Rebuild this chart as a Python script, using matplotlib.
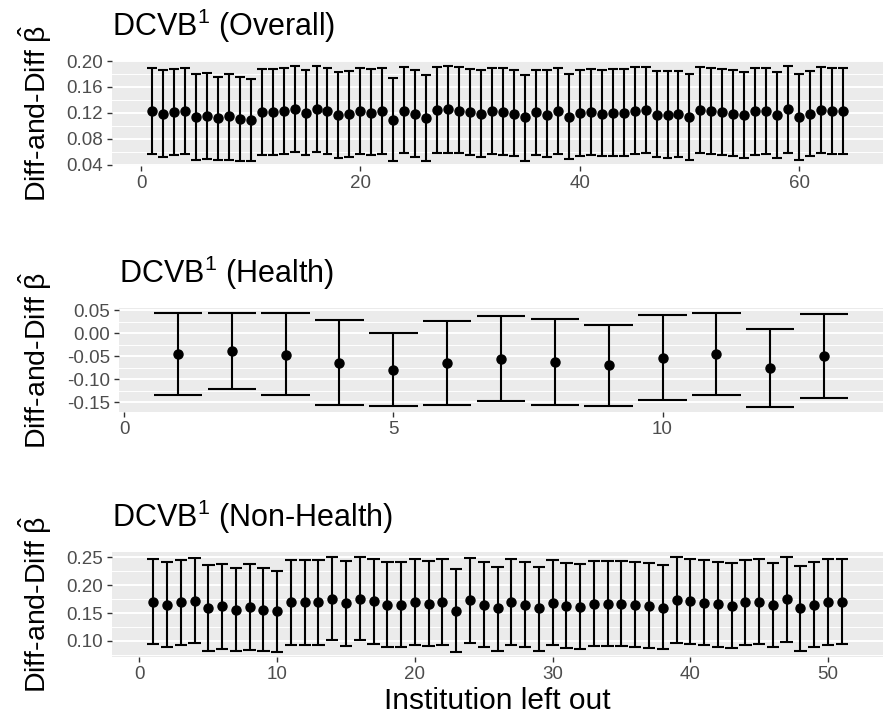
import numpy as np
import matplotlib
matplotlib.use("Agg")
import matplotlib.pyplot as plt


# -----------------------------
# Data
# -----------------------------

# DCVB (Overall): 64 institutions
overall_est = [0.1226, 0.1185, 0.1210, 0.1236, 0.1138, 0.1154, 0.1117, 0.1148, 0.1107, 0.1086,
               0.1210, 0.1210, 0.1221, 0.1262, 0.1200, 0.1267, 0.1221, 0.1169, 0.1179, 0.1221,
               0.1205, 0.1221, 0.1097, 0.1236, 0.1185, 0.1128, 0.1241, 0.1252, 0.1236, 0.1216,
               0.1179, 0.1224, 0.1216, 0.1190, 0.1133, 0.1210, 0.1174, 0.1236, 0.1143, 0.1195,
               0.1216, 0.1190, 0.1205, 0.1205, 0.1236, 0.1246, 0.1174, 0.1164, 0.1185, 0.1138,
               0.1246, 0.1226, 0.1210, 0.1190, 0.1174, 0.1221, 0.1226, 0.1169, 0.1262, 0.1138,
               0.1190, 0.1246, 0.1226, 0.1226]
overall_hi = [0.1886, 0.1855, 0.1876, 0.1897, 0.1799, 0.1814, 0.1757, 0.1804, 0.1747, 0.1716,
              0.1876, 0.1876, 0.1886, 0.1928, 0.1866, 0.1928, 0.1886, 0.1835, 0.1850, 0.1886,
              0.1876, 0.1892, 0.1742, 0.1907, 0.1855, 0.1783, 0.1912, 0.1923, 0.1912, 0.1881,
              0.1855, 0.1889, 0.1886, 0.1861, 0.1783, 0.1866, 0.1855, 0.1897, 0.1804, 0.1866,
              0.1881, 0.1855, 0.1876, 0.1876, 0.1902, 0.1912, 0.1845, 0.1845, 0.1850, 0.1804,
              0.1912, 0.1892, 0.1876, 0.1861, 0.1835, 0.1886, 0.1897, 0.1835, 0.1923, 0.1804,
              0.1850, 0.1912, 0.1897, 0.1897]
overall_lo = [0.0565, 0.0519, 0.0555, 0.0570, 0.0472, 0.0488, 0.0467, 0.0477, 0.0452, 0.0452,
              0.0555, 0.0555, 0.0560, 0.0601, 0.0544, 0.0596, 0.0560, 0.0508, 0.0519, 0.0560,
              0.0550, 0.0560, 0.0452, 0.0575, 0.0524, 0.0462, 0.0575, 0.0581, 0.0575, 0.0544,
              0.0519, 0.0562, 0.0555, 0.0529, 0.0462, 0.0550, 0.0519, 0.0560, 0.0483, 0.0534,
              0.0550, 0.0539, 0.0539, 0.0539, 0.0570, 0.0575, 0.0514, 0.0503, 0.0514, 0.0472,
              0.0575, 0.0560, 0.0550, 0.0529, 0.0508, 0.0555, 0.0565, 0.0503, 0.0581, 0.0467,
              0.0529, 0.0575, 0.0565, 0.0565]

# DCVB (Health): 13 institutions
health_est = [-0.0457, -0.0387, -0.0465, -0.0642, -0.0805, -0.0649, -0.0557,
              -0.0628, -0.0699, -0.0543, -0.0450, -0.0762, -0.0493]
health_hi = [0.0429, 0.0443, 0.0429, 0.0280, -0.0004, 0.0259, 0.0372,
             0.0301, 0.0181, 0.0387, 0.0443, 0.0082, 0.0422]
health_lo = [-0.1344, -0.1216, -0.1344, -0.1557, -0.1578, -0.1557, -0.1479,
             -0.1550, -0.1578, -0.1457, -0.1330, -0.1606, -0.1400]

# DCVB (Non-Health): 51 institutions
nonhealth_est = [0.1699, 0.1652, 0.1693, 0.1723, 0.1593, 0.1622, 0.1557, 0.1604, 0.1563, 0.1533,
                 0.1693, 0.1693, 0.1705, 0.1753, 0.1682, 0.1753, 0.1711, 0.1646, 0.1652, 0.1699,
                 0.1670, 0.1699, 0.1539, 0.1729, 0.1652, 0.1587, 0.1705, 0.1652, 0.1587, 0.1682,
                 0.1628, 0.1604, 0.1670, 0.1664, 0.1658, 0.1640, 0.1628, 0.1598, 0.1735, 0.1711,
                 0.1687, 0.1658, 0.1634, 0.1693, 0.1705, 0.1640, 0.1747, 0.1593, 0.1652, 0.1705,
                 0.1705]
nonhealth_hi = [0.2464, 0.2411, 0.2453, 0.2482, 0.2364, 0.2387, 0.2304, 0.2375, 0.2304, 0.2257,
                0.2453, 0.2453, 0.2458, 0.2500, 0.2441, 0.2500, 0.2470, 0.2411, 0.2417, 0.2464,
                0.2441, 0.2464, 0.2286, 0.2494, 0.2411, 0.2334, 0.2464, 0.2423, 0.2328, 0.2447,
                0.2399, 0.2375, 0.2441, 0.2435, 0.2429, 0.2411, 0.2393, 0.2358, 0.2500, 0.2470,
                0.2453, 0.2423, 0.2393, 0.2453, 0.2464, 0.2405, 0.2512, 0.2352, 0.2411, 0.2464,
                0.2464]
nonhealth_lo = [0.0940, 0.0893, 0.0928, 0.0958, 0.0827, 0.0863, 0.0815, 0.0839, 0.0815, 0.0804,
                0.0922, 0.0922, 0.0934, 0.1017, 0.0910, 0.1011, 0.0946, 0.0893, 0.0899, 0.0934,
                0.0910, 0.0934, 0.0798, 0.0964, 0.0893, 0.0815, 0.0934, 0.0899, 0.0815, 0.0922,
                0.0881, 0.0851, 0.0910, 0.0905, 0.0905, 0.0887, 0.0875, 0.0851, 0.0970, 0.0940,
                0.0922, 0.0899, 0.0881, 0.0928, 0.0940, 0.0887, 0.0982, 0.0821, 0.0893, 0.0934,
                0.0940]

titles = ["DCVB$^1$ (Overall)", "DCVB$^1$ (Health)", "DCVB$^1$ (Non-Health)"]
x_ticks = [[0, 20, 40, 60], [0, 5, 10], [0, 10, 20, 30, 40, 50]]
y_major = [[0.04, 0.08, 0.12, 0.16, 0.20],
           [-0.15, -0.10, -0.05, 0.00, 0.05],
           [0.10, 0.15, 0.20, 0.25]]
ylabel = r"Diff-and-Diff $\hat{\beta}$"
xlabel = "Institution left out"


# -----------------------------
# Style
# -----------------------------

plt.rcParams["font.family"] = ["Liberation Sans", "DejaVu Sans"]
plt.rcParams["mathtext.fontset"] = "custom"
plt.rcParams["mathtext.rm"] = "Liberation Sans"
plt.rcParams["mathtext.it"] = "Liberation Sans"
plt.rcParams["mathtext.default"] = "regular"

BG = "#EBEBEB"
TICK_COL = "#4D4D4D"
W, H = 888, 719

# panel boxes in pixels: left, top, right, bottom
boxes = [(112, 61, 883, 166), (119, 308, 883, 412), (112, 552, 883, 657)]


def panel(fig, box, est, hi, lo, title, xt, ym):
    l, t, r, b = box
    ax = fig.add_axes([l / W, 1 - b / H, (r - l) / W, (b - t) / H])
    ax.set_facecolor(BG)
    for s in ax.spines.values():
        s.set_visible(False)

    est = np.array(est)
    hi = np.array(hi)
    lo = np.array(lo)
    x = np.arange(1, len(est) + 1)

    # ggplot-like 5% expansion
    x0, x1 = x.min() - 0.45, x.max() + 0.45
    px = 0.05 * (x1 - x0)
    y0, y1 = lo.min(), hi.max()
    py = 0.05 * (y1 - y0)
    ax.set_xlim(x0 - px, x1 + px)
    ax.set_ylim(y0 - py, y1 + py)

    # grid (horizontal only)
    step = ym[1] - ym[0]
    minors = np.arange(ym[0] - step / 2, ym[-1] + step, step)
    for m in minors:
        ax.axhline(m, color="white", lw=0.7, zorder=0.5)
    for m in ym:
        ax.axhline(m, color="white", lw=1.4, zorder=0.6)

    ax.vlines(x, lo, hi, color="black", lw=1.5, zorder=2)
    ax.hlines(hi, x - 0.45, x + 0.45, color="black", lw=1.5, zorder=2)
    ax.hlines(lo, x - 0.45, x + 0.45, color="black", lw=1.5, zorder=2)
    ax.plot(x, est, "o", color="black", ms=6.5, zorder=3)

    ax.set_xticks(xt)
    ax.set_yticks(ym)
    ax.set_yticklabels(["{:.2f}".format(v) for v in ym])
    ax.tick_params(colors="#333333", labelcolor=TICK_COL, labelsize=13.5,
                   length=3.5, width=1.0, pad=3)

    ax.set_title(title, loc="left", fontsize=22, pad=18)

    # rotated y label, centred on the panel
    fig.text(35 / W, 1 - (t + b) / 2 / H, ylabel, rotation=90,
             ha="center", va="center", fontsize=20.5)
    return ax


fig = plt.figure(figsize=(W / 100, H / 100), dpi=100)

panel(fig, boxes[0], overall_est, overall_hi, overall_lo, titles[0], x_ticks[0], y_major[0])
panel(fig, boxes[1], health_est, health_hi, health_lo, titles[1], x_ticks[1], y_major[1])
ax3 = panel(fig, boxes[2], nonhealth_est, nonhealth_hi, nonhealth_lo, titles[2], x_ticks[2], y_major[2])

ax3.set_xlabel(xlabel, fontsize=21.5, labelpad=3)

fig.savefig("out.png", dpi=100)
